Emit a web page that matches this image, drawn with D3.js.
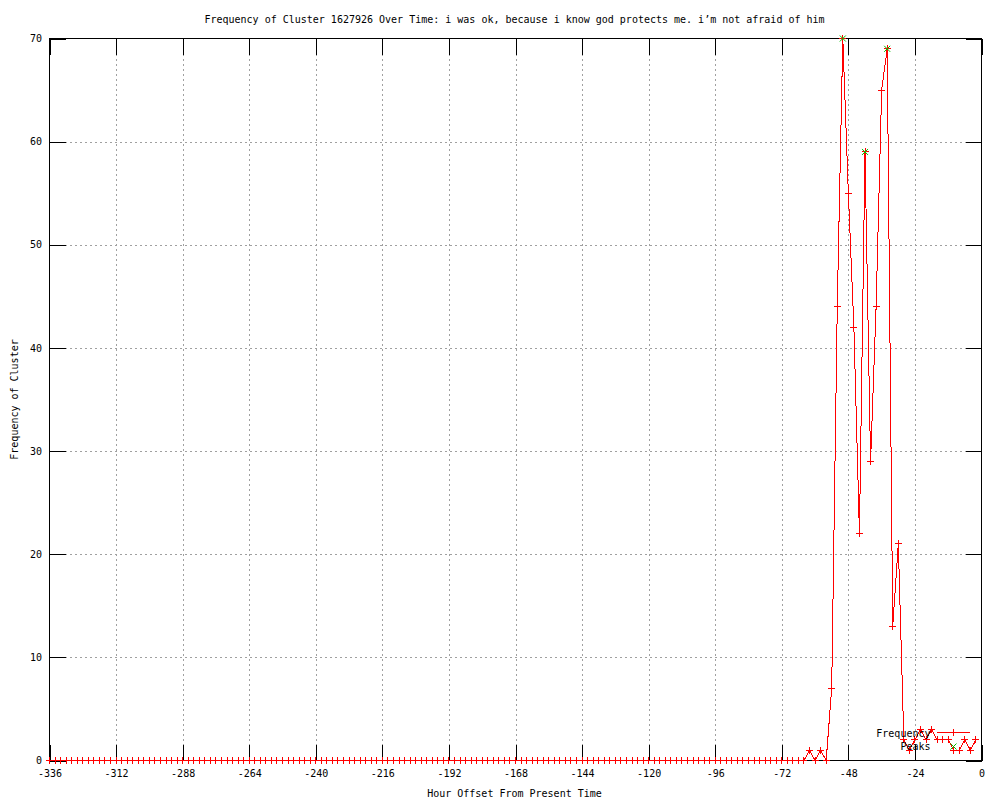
<!DOCTYPE html>
<html>
<head>
<meta charset="utf-8">
<script src="https://cdn.jsdelivr.net/npm/d3@7/dist/d3.min.js"></script>
<style>
  html, body { margin: 0; padding: 0; background: #fff; }
  svg { display: block; }
  text { font-family: "DejaVu Sans Mono", "Liberation Mono", monospace; font-size: 10px; fill: #000; }
</style>
</head>
<body>
<svg id="chart" width="1000" height="800"></svg>
<script>
// ---- data ----
const hours = [
  -336,-334,-332,-330,-328,-326,-324,-322,-320,-318,-316,-314,-312,-310,-308,-306,-304,-302,-300,-298,
  -296,-294,-292,-290,-288,-286,-284,-282,-280,-278,-276,-274,-272,-270,-268,-266,-264,-262,-260,-258,
  -256,-254,-252,-250,-248,-246,-244,-242,-240,-238,-236,-234,-232,-230,-228,-226,-224,-222,-220,-218,
  -216,-214,-212,-210,-208,-206,-204,-202,-200,-198,-196,-194,-192,-190,-188,-186,-184,-182,-180,-178,
  -176,-174,-172,-170,-168,-166,-164,-162,-160,-158,-156,-154,-152,-150,-148,-146,-144,-142,-140,-138,
  -136,-134,-132,-130,-128,-126,-124,-122,-120,-118,-116,-114,-112,-110,-108,-106,-104,-102,-100,-98,
  -96,-94,-92,-90,-88,-86,-84,-82,-80,-78,-76,-74,-72,-70,-68,-66,-64,-62,-60,-58,
  -56,-54,-52,-50,-48,-46,-44,-42,-40,-38,-36,-34,-32,-30,-28,-26,-24,-22,-20,-18,
  -16,-14,-12,-10,-8,-6,-4,-2
];
const frequency = [
  0,0,0,0,0,0,0,0,0,0,0,0,0,0,0,0,0,0,0,0,
  0,0,0,0,0,0,0,0,0,0,0,0,0,0,0,0,0,0,0,0,
  0,0,0,0,0,0,0,0,0,0,0,0,0,0,0,0,0,0,0,0,
  0,0,0,0,0,0,0,0,0,0,0,0,0,0,0,0,0,0,0,0,
  0,0,0,0,0,0,0,0,0,0,0,0,0,0,0,0,0,0,0,0,
  0,0,0,0,0,0,0,0,0,0,0,0,0,0,0,0,0,0,0,0,
  0,0,0,0,0,0,0,0,0,0,0,0,0,0,0,0,0,1,0,1,
  0,7,44,70,55,42,22,59,29,44,65,69,13,21,2,1,2,3,2,3,
  2,2,2,1,1,2,1,2
];
const peakHours = [-50, -42, -34];
const peakValues = [70, 59, 69];

const xTicks = [-336,-312,-288,-264,-240,-216,-192,-168,-144,-120,-96,-72,-48,-24,0];
const yTicks = [0,10,20,30,40,50,60,70];

const titleText = "Frequency of Cluster 1627926 Over Time: i was ok, because i know god protects me. i\u2019m not afraid of him";
const xLabel = "Hour Offset From Present Time";
const yLabel = "Frequency of Cluster";
const seriesNames = ["Frequency", "Peaks"];

// ---- layout ----
const svg = d3.select("#chart");
const pL = 49.5, pR = 981.5, pT = 38.5, pB = 760.5;
const x = d3.scaleLinear().domain([-336, 0]).range([pL, pR]);
const y = d3.scaleLinear().domain([0, 70]).range([pB, pT]);
const fmt = d => String(d); // plain hyphen minus like gnuplot

// grid
const grid = svg.append("g").attr("shape-rendering", "crispEdges");
grid.append("g").attr("transform", `translate(0,${pB})`)
  .call(d3.axisBottom(x).tickValues(xTicks.filter(d => d > -336 && d < 0)).tickSize(-(pB - pT)).tickFormat(""))
  .call(g => g.select(".domain").remove())
  .call(g => g.selectAll("line").attr("stroke", "#a0a0a0").attr("stroke-dasharray", "2,3"));
grid.append("g").attr("transform", `translate(${pL},0)`)
  .call(d3.axisLeft(y).tickValues(yTicks.filter(d => d > 0 && d < 70)).tickSize(-(pR - pL)).tickFormat(""))
  .call(g => g.select(".domain").remove())
  .call(g => g.selectAll("line").attr("stroke", "#a0a0a0").attr("stroke-dasharray", "2,3"));

// axes (ticks inward, mirrored)
const axes = svg.append("g").attr("shape-rendering", "crispEdges");
const styleAxis = g => {
  g.select(".domain").remove();
  g.selectAll("line").attr("stroke", "#000");
  g.selectAll("text").style("font-family", "DejaVu Sans Mono, monospace").style("font-size", "10px").attr("fill", "#000");
};
axes.append("g").attr("transform", `translate(0,${pB})`)
  .call(d3.axisBottom(x).tickValues(xTicks).tickSizeInner(-16).tickSizeOuter(0).tickPadding(9).tickFormat(fmt))
  .call(styleAxis);
axes.append("g").attr("transform", `translate(0,${pT})`)
  .call(d3.axisTop(x).tickValues(xTicks).tickSizeInner(-16).tickSizeOuter(0).tickFormat(""))
  .call(styleAxis);
axes.append("g").attr("transform", `translate(${pL},0)`)
  .call(d3.axisLeft(y).tickValues(yTicks).tickSizeInner(-16).tickSizeOuter(0).tickPadding(7.5).tickFormat(fmt))
  .call(styleAxis);
axes.append("g").attr("transform", `translate(${pR},0)`)
  .call(d3.axisRight(y).tickValues(yTicks).tickSizeInner(-16).tickSizeOuter(0).tickFormat(""))
  .call(styleAxis);
axes.append("rect").attr("x", pL).attr("y", pT).attr("width", pR - pL).attr("height", pB - pT)
  .attr("fill", "none").attr("stroke", "#000");

// data series
const pts = hours.map((h, i) => ({ h, v: frequency[i] }));
const line = d3.line().x(d => x(d.h)).y(d => y(d.v));
const plot = svg.append("g");
plot.append("path").datum(pts).attr("d", line).attr("fill", "none").attr("stroke", "#ff0000").attr("stroke-width", 1)
  .attr("shape-rendering", "crispEdges");

const plusPath = "M-3.5,0H3.5M0,-3.5V3.5";
const xPath = "M-3,-3L3,3M-3,3L3,-3";
plot.append("g").selectAll("path").data(pts).join("path")
  .attr("transform", d => `translate(${x(d.h)},${y(d.v)})`)
  .attr("d", plusPath).attr("stroke", "#ff0000").attr("fill", "none").attr("shape-rendering", "crispEdges");

const peaks = peakHours.map((h, i) => ({ h, v: peakValues[i] }));
plot.append("g").selectAll("path").data(peaks).join("path")
  .attr("transform", d => `translate(${x(d.h)},${y(d.v)})`)
  .attr("d", xPath).attr("stroke", "#00c000").attr("fill", "none");

// legend (bottom right, gnuplot style)
const key = svg.append("g");
key.append("text").attr("x", 930.5).attr("y", 736.5).attr("text-anchor", "end").text(seriesNames[0]);
key.append("line").attr("x1", 937).attr("x2", 970).attr("y1", 732.5).attr("y2", 732.5)
  .attr("stroke", "#ff0000").attr("shape-rendering", "crispEdges");
key.append("path").attr("transform", "translate(953.5,732.5)").attr("d", plusPath)
  .attr("stroke", "#ff0000").attr("fill", "none").attr("shape-rendering", "crispEdges");
key.append("text").attr("x", 930.5).attr("y", 750).attr("text-anchor", "end").text(seriesNames[1]);
key.append("path").attr("transform", "translate(953.5,746.5)").attr("d", xPath)
  .attr("stroke", "#00c000").attr("fill", "none");

// titles
svg.append("text").attr("x", 514.5).attr("y", 22.5).attr("text-anchor", "middle").text(titleText);
svg.append("text").attr("x", 514.5).attr("y", 797).attr("text-anchor", "middle").text(xLabel);
svg.append("text").attr("transform", "translate(17.5,399.5) rotate(-90)").attr("text-anchor", "middle").text(yLabel);
</script>
</body>
</html>
